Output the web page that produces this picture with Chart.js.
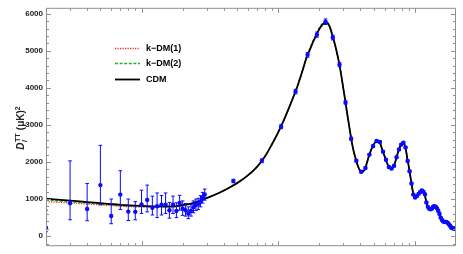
<!DOCTYPE html>
<html><head><meta charset="utf-8">
<script src="https://cdn.jsdelivr.net/npm/chart.js@4/dist/chart.umd.min.js"></script>
<style>html,body{margin:0;padding:0;background:#fff;}canvas{display:block;}</style>
</head><body>
<canvas id="c" width="463" height="254"></canvas>
<script>
// ---- legend / labels ----
const seriesNames = ['k\u2212DM(1)', 'k\u2212DM(2)', 'CDM'];
const yTickValues = [0, 1000, 2000, 3000, 4000, 5000, 6000];
const xMajorTicks = [10, 100, 1000];
const xMinorTicks = [3,4,5,6,7,8,9,20,30,40,50,60,70,80,90,200,300,400,500,600,700,800,900];

// ---- theory curves ----
const thL = [2,3,4,5,6,7,8,9,10,12,14,16,18,20,23,26,30,35,40,45,50,
 60,70,80,90,100,110,120,130,140,150,160,170,180,190,200,210,220,230,240,250,
 260,270,280,290,300,310,320,330,340,350,360,370,380,390,400,410,420,430,440,450,
 460,470,480,490,500,510,520,530,540,550,560,570,580,590,600,
 620,640,660,680,700,720,740,760,780,800,820,840,860,880,900,920,940,960,980,1000,
 1020,1040,1060,1080,1100,1120,1140,1160,1180,1200,
 1230,1260,1290,1320,1350,1380,1410,1440,1470,1500,
 1540,1580,1620,1660,1700,1750,1800,1850,1900,1950,2000];
const cdm = [1010,960,920,890,865,845,832,822,815,805,800,802,810,840,880,940,1030,1130,1230,1330,1430,
 1640,1870,2150,2480,2800,3130,3460,3780,4100,4440,4780,5020,5240,5420,5590,5700,5760,5740,5620,5390,
 5180,4920,4650,4320,3970,3640,3300,2990,2690,2430,2230,2070,1930,1820,1750,1730,1750,1800,1900,2030,
 2150,2250,2340,2410,2470,2520,2560,2575,2565,2540,2480,2400,2310,2230,2160,
 2010,1890,1830,1820,1880,2010,2170,2310,2420,2490,2520,2470,2330,2100,1900,1690,1470,1260,1120,1050,
 1050,1090,1140,1180,1210,1230,1225,1195,1140,1000,
 850,760,730,730,765,800,800,780,720,630,
 520,440,395,385,380,355,300,240,215,200,185];
const kdm1 = [930,895,865,842,822,806,796,789,784,777,775,780,790,822,865,927,1020,1122,1224,1326,1428,
 1640,1870,2150,2480,2800,3130,3460,3780,4100,4440,4780,5020,5240,5420,5590,5700,5760,5740,5620,5390,
 5180,4920,4650,4320,3970,3640,3300,2990,2690,2430,2230,2070,1930,1820,1750,1730,1750,1800,1900,2030,
 2150,2250,2340,2410,2470,2520,2560,2575,2565,2540,2480,2400,2310,2230,2160,
 2010,1890,1830,1820,1880,2010,2170,2310,2420,2490,2520,2470,2330,2100,1900,1690,1470,1260,1120,1050,
 1050,1090,1140,1180,1210,1230,1225,1195,1140,1000,
 850,760,730,730,765,800,800,780,720,630,
 520,440,395,385,380,355,300,240,215,200,185];
const kdm2 = [970,928,893,866,844,826,814,806,800,792,788,791,800,831,872,933,1025,1126,1227,1328,1429,
 1640,1870,2150,2480,2800,3140,3475,3800,4125,4470,4810,5055,5275,5455,5625,5735,5790,5770,5645,5410,
 5190,4925,4650,4320,3970,3640,3300,2990,2690,2430,2230,2070,1930,1820,1750,1730,1750,1800,1900,2030,
 2150,2250,2340,2410,2470,2520,2560,2575,2565,2540,2480,2400,2310,2230,2160,
 2010,1890,1830,1820,1880,2010,2170,2310,2420,2490,2520,2470,2330,2100,1900,1690,1470,1260,1120,1050,
 1050,1090,1140,1180,1210,1230,1225,1195,1140,1000,
 850,760,730,730,765,800,800,780,720,630,
 520,440,395,385,380,355,300,240,215,200,185];

// ---- low-l data (asymmetric errors) ----
const loL  = [2,3,4,5,6,7,8,9,10,11,12,13,14,15,16,17,18,19,20,21,22,23,24,25,26,27,28,29];
const loD  = [225,885,731,1377,544,1120,661,655,855,977,765,808,850,850,697,850,680,893,740,697,612,680,782,842,867,935,1037,1122];
const loUp = [700,2030,1420,2450,1000,1765,1000,930,1240,1377,1080,1165,1097,1165,910,1080,900,1100,950,880,790,850,950,1000,1020,1090,1180,1270];
const loLo = [120,440,416,845,335,720,420,440,612,655,570,500,570,612,485,612,500,700,560,540,470,540,630,690,720,790,890,970];

// ---- high-l binned data ----
const hiL = [47,76,105,134,164,192,222,251,281,311,342,373,405,
 435,465,495,525,555,585,615,645,675,705,735,765,795,825,855,885,915,945,975,1005,
 1035,1065,1095,1125,1155,1185,1215,1245,1275,1305,1335,1365,1395,1425,1455,1485,1515,1545,1575,1605,
 1635,1665,1695,1725,1755,1785,1815,1845,1875,1905,1935,1965,1995];
const hiD = [1488,2033,2952,3900,4892,5437,5785,5360,4628,3607,2629,2033,1735,
 1840,2200,2430,2565,2540,2280,2060,1865,1825,1900,2130,2339,2470,2520,2390,2030,1750,1420,1120,1040,
 1080,1140,1190,1230,1200,1130,910,790,740,725,745,800,805,790,745,680,600,500,440,400,
 385,385,383,370,345,310,275,235,215,212,205,198,190];
const hiErr = [45,50,55,60,65,70,75,65,55,45,40,35,30,
 30,30,30,30,30,28,28,28,28,28,28,28,28,28,26,26,26,24,24,24,
 24,24,24,24,22,22,22,22,22,22,22,22,22,22,22,22,22,20,20,20,
 20,20,20,20,20,20,20,20,20,20,20,20,20];

const BLUE = '#0a0aff';
const pts = (xs, ys) => xs.map((v, i) => ({x: v, y: ys[i]}));

const errPlugin = {
  id: 'errbars',
  beforeDatasetDraw(chart, args) {
    let L, lo, hi;
    if (args.index === 0) { L = loL; lo = loLo; hi = loUp; }
    else if (args.index === 1) { L = hiL; lo = hiD.map((d, i) => d - hiErr[i]); hi = hiD.map((d, i) => d + hiErr[i]); }
    else return;
    const {ctx, chartArea: a, scales: {x, y}} = chart;
    ctx.save();
    ctx.beginPath(); ctx.rect(a.left, a.top, a.right - a.left, a.bottom - a.top); ctx.clip();
    ctx.strokeStyle = BLUE; ctx.lineWidth = 1;
    ctx.beginPath();
    L.forEach((l, i) => {
      const px = x.getPixelForValue(l), p1 = y.getPixelForValue(lo[i]), p2 = y.getPixelForValue(hi[i]);
      ctx.moveTo(px, p1); ctx.lineTo(px, p2);
      ctx.moveTo(px - 1.8, p1); ctx.lineTo(px + 1.8, p1);
      ctx.moveTo(px - 1.8, p2); ctx.lineTo(px + 1.8, p2);
    });
    ctx.stroke();
    ctx.restore();
  }
};

const framePlugin = {
  id: 'frame',
  afterDatasetsDraw(chart) {
    const {ctx, chartArea: a, scales: {x, y}} = chart;
    ctx.save();
    ctx.strokeStyle = '#8f8f8f'; ctx.lineWidth = 1;
    const L = a.left + 0.5, R = a.right - 0.5, T = a.top + 0.5, B = a.bottom - 0.5;
    ctx.beginPath();
    ctx.moveTo(L, T); ctx.lineTo(R, T); ctx.lineTo(R, B); ctx.lineTo(L, B); ctx.closePath();
    for (let v = -200; v <= 6000; v += 200) {
      const p = Math.round(y.getPixelForValue(v)) + 0.5;
      const len = yTickValues.includes(v) ? 4.5 : 2.5;
      ctx.moveTo(L, p); ctx.lineTo(L + len, p);
      ctx.moveTo(R, p); ctx.lineTo(R - len, p);
    }
    const xt = (arr, len) => arr.forEach(v => {
      const p = Math.round(x.getPixelForValue(v)) + 0.5;
      ctx.moveTo(p, B); ctx.lineTo(p, B - len);
      ctx.moveTo(p, T); ctx.lineTo(p, T + len);
    });
    xt(xMinorTicks, 2.5); xt(xMajorTicks, 4.5);
    ctx.stroke();
    ctx.restore();

    // y-axis title: D_l^TT (μK)^2
    ctx.save();
    ctx.fillStyle = '#222';
    ctx.textBaseline = 'alphabetic';
    const big = 'bold 10px "Liberation Sans", Arial, sans-serif';
    const bigI = 'italic bold 10px "Liberation Sans", Arial, sans-serif';
    const sm = 'bold 7px "Liberation Sans", Arial, sans-serif';
    const smI = 'italic bold 7px "Liberation Sans", Arial, sans-serif';
    ctx.font = bigI; const wD = ctx.measureText('D').width;
    ctx.font = sm; const wTT = ctx.measureText('TT').width;
    ctx.font = smI; const wl = ctx.measureText('l').width;
    ctx.font = big; const wP = ctx.measureText(' (\u03bcK)').width;
    ctx.font = sm; const w2 = ctx.measureText('2').width;
    const total = wD + Math.max(wTT, wl) + 1 + wP + w2;
    ctx.translate(24, 128 + total / 2);
    ctx.rotate(-Math.PI / 2);
    let cx = 0;
    ctx.font = bigI; ctx.fillText('D', cx, 0); cx += wD + 0.5;
    ctx.font = smI; ctx.fillText('l', cx, 2.5);
    ctx.font = sm; ctx.fillText('TT', cx, -4.5); cx += Math.max(wTT, wl) + 0.5;
    ctx.font = big; ctx.fillText(' (\u03bcK)', cx, 0); cx += wP;
    ctx.font = sm; ctx.fillText('2', cx, -4.5);
    ctx.restore();

    // legend
    ctx.save();
    const items = [
      {name: seriesNames[0], color: '#ff2020', dash: [1.2, 1.3], w: 1.3},
      {name: seriesNames[1], color: '#1fb41f', dash: [3, 1.6], w: 1.3},
      {name: seriesNames[2], color: '#000000', dash: [], w: 1.8}
    ];
    const rows = [48.5, 63.5, 79.5];
    items.forEach((it, i) => {
      ctx.strokeStyle = it.color; ctx.lineWidth = it.w; ctx.setLineDash(it.dash);
      ctx.beginPath(); ctx.moveTo(115, rows[i]); ctx.lineTo(140, rows[i]); ctx.stroke();
      ctx.setLineDash([]);
      ctx.fillStyle = '#000';
      ctx.font = 'bold 9px "Liberation Sans", Arial, sans-serif';
      ctx.textBaseline = 'middle';
      ctx.fillText(it.name, 146, rows[i] + 0.5);
    });
    ctx.restore();
  }
};

new Chart(document.getElementById('c'), {
  type: 'scatter',
  data: {
    datasets: [
      {label: 'lowl', data: pts(loL, loD), backgroundColor: BLUE, borderColor: BLUE, pointRadius: 2.2, borderWidth: 0, clip: 0},
      {label: 'highl', data: pts(hiL, hiD), backgroundColor: BLUE, borderColor: BLUE, pointRadius: 2.2, borderWidth: 0, clip: 0},
      {label: seriesNames[2], data: pts(thL, cdm), showLine: true, pointRadius: 0, borderColor: '#000', borderWidth: 1.8, cubicInterpolationMode: 'monotone', clip: 0},
      {label: seriesNames[1], data: pts(thL, kdm2), showLine: true, pointRadius: 0, borderColor: '#1fb41f', borderWidth: 1.3, borderDash: [3, 1.6], cubicInterpolationMode: 'monotone', clip: 0},
      {label: seriesNames[0], data: pts(thL, kdm1), showLine: true, pointRadius: 0, borderColor: '#ff2020', borderWidth: 1.3, borderDash: [1.2, 1.3], cubicInterpolationMode: 'monotone', clip: 0}
    ]
  },
  options: {
    responsive: false, animation: false, devicePixelRatio: 1,
    layout: {padding: {left: 0, right: 7, top: 0, bottom: 0}},
    plugins: {legend: {display: false}, tooltip: {enabled: false}},
    scales: {
      x: {type: 'logarithmic', min: 2, max: 2000, display: false},
      y: {
        min: -272, max: 6161,
        afterBuildTicks: s => { s.ticks = yTickValues.map(v => ({value: v})); },
        afterFit: s => { s.width = 46; },
        grid: {display: false, drawTicks: false},
        border: {display: false},
        ticks: {padding: 3, color: '#222', callback: v => String(v),
                font: {family: '"Liberation Sans", Arial, sans-serif', size: 8, weight: 'bold'}}
      }
    }
  },
  plugins: [errPlugin, framePlugin]
});
</script>
</body></html>
